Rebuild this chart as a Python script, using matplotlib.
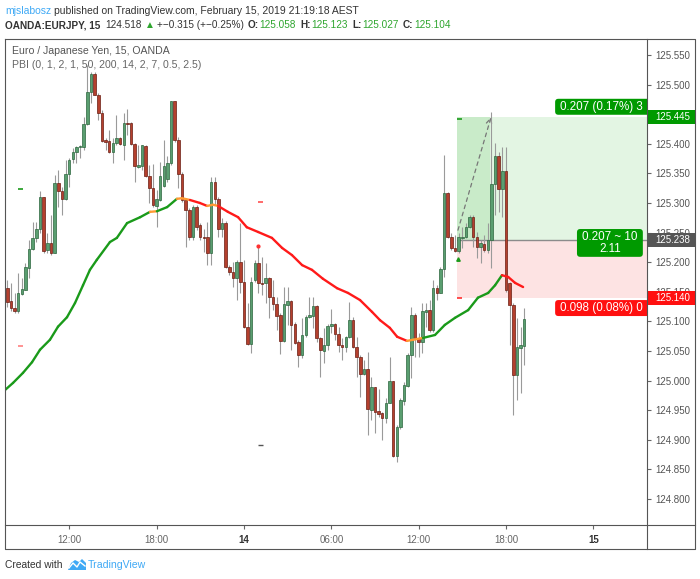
import matplotlib
matplotlib.use("Agg")
import matplotlib.pyplot as plt
import matplotlib.transforms as mtransforms
from matplotlib.collections import LineCollection
from matplotlib.patches import Rectangle, Polygon, FancyBboxPatch
import numpy as np

plt.rcParams["font.family"] = ["Liberation Sans", "DejaVu Sans"]

# EUR/JPY 15 min candles, bar 0 = Feb 13 07:45
opens = [
    125.156, 125.134, 125.123, 125.118, 125.146, 125.153, 125.190, 125.222, 125.241, 125.256,
    125.310, 125.221, 125.232, 125.216, 125.334, 125.320, 125.307, 125.349, 125.374, 125.386,
    125.395, 125.395, 125.433, 125.488, 125.518, 125.482, 125.452, 125.406, 125.405, 125.386,
    125.401, 125.410, 125.398, 125.435, 125.435, 125.400, 125.361, 125.362, 125.396, 125.346,
    125.325, 125.295, 125.305, 125.329, 125.340, 125.368, 125.472, 125.406, 125.349, 125.305,
    125.288, 125.243, 125.293, 125.262, 125.243, 125.243, 125.216, 125.335, 125.307, 125.256,
    125.266, 125.192, 125.183, 125.173, 125.200, 125.167, 125.091, 125.062, 125.170, 125.199,
    125.165, 125.165, 125.173, 125.141, 125.129, 125.111, 125.067, 125.128, 125.134, 125.096,
    125.065, 125.043, 125.077, 125.107, 125.109, 125.126, 125.072, 125.050, 125.060, 125.092,
    125.096, 125.079, 125.060, 125.057, 125.074, 125.102, 125.057, 125.040, 125.011, 125.020,
    124.950, 124.989, 124.949, 124.945, 124.937, 124.962, 124.999, 124.873, 124.922, 124.966,
    124.991, 125.043, 125.111, 125.072, 125.065, 125.116, 125.119, 125.085, 125.156, 125.148,
    125.189, 125.317, 125.243, 125.224, 125.219, 125.241, 125.243, 125.259, 125.276, 125.243,
    125.226, 125.231, 125.221, 125.237, 125.332, 125.379, 125.324, 125.354, 125.165, 125.128,
    125.009, 125.055, 125.058,
]
highs = [
    125.170, 125.165, 125.148, 125.182, 125.173, 125.199, 125.237, 125.268, 125.268, 125.320,
    125.310, 125.249, 125.280, 125.347, 125.356, 125.327, 125.373, 125.376, 125.393, 125.396,
    125.398, 125.445, 125.533, 125.521, 125.521, 125.486, 125.457, 125.410, 125.423, 125.410,
    125.449, 125.411, 125.452, 125.459, 125.437, 125.401, 125.398, 125.398, 125.398, 125.364,
    125.366, 125.322, 125.369, 125.406, 125.380, 125.472, 125.472, 125.411, 125.352, 125.308,
    125.292, 125.297, 125.297, 125.266, 125.256, 125.268, 125.344, 125.344, 125.310, 125.275,
    125.270, 125.195, 125.200, 125.204, 125.266, 125.204, 125.131, 125.175, 125.204, 125.226,
    125.209, 125.199, 125.175, 125.170, 125.141, 125.114, 125.158, 125.158, 125.136, 125.099,
    125.069, 125.106, 125.111, 125.141, 125.141, 125.128, 125.074, 125.089, 125.096, 125.121,
    125.097, 125.091, 125.072, 125.075, 125.133, 125.107, 125.074, 125.043, 125.035, 125.048,
    125.006, 124.989, 124.986, 124.947, 124.971, 125.040, 124.999, 124.925, 124.971, 124.998,
    125.047, 125.124, 125.114, 125.080, 125.131, 125.131, 125.136, 125.170, 125.161, 125.192,
    125.381, 125.319, 125.249, 125.246, 125.249, 125.259, 125.266, 125.280, 125.280, 125.251,
    125.237, 125.246, 125.266, 125.454, 125.401, 125.386, 125.395, 125.395, 125.167, 125.131,
    125.106, 125.091, 125.123,
]
lows = [
    125.124, 125.118, 125.114, 125.114, 125.145, 125.153, 125.173, 125.221, 125.234, 125.249,
    125.216, 125.216, 125.212, 125.216, 125.293, 125.280, 125.305, 125.327, 125.368, 125.368,
    125.376, 125.390, 125.432, 125.469, 125.482, 125.440, 125.403, 125.390, 125.384, 125.368,
    125.398, 125.398, 125.373, 125.415, 125.398, 125.335, 125.359, 125.356, 125.344, 125.300,
    125.293, 125.259, 125.303, 125.327, 125.335, 125.364, 125.403, 125.325, 125.302, 125.226,
    125.237, 125.237, 125.254, 125.237, 125.217, 125.195, 125.195, 125.297, 125.243, 125.243,
    125.190, 125.178, 125.158, 125.136, 125.148, 125.089, 125.060, 125.047, 125.167, 125.148,
    125.145, 125.131, 125.106, 125.119, 125.085, 125.045, 125.065, 125.094, 125.052, 125.062,
    125.023, 125.038, 125.074, 125.106, 125.089, 125.065, 125.006, 125.030, 125.052, 125.080,
    125.069, 125.048, 125.035, 125.048, 125.072, 125.055, 125.006, 124.972, 125.009, 124.908,
    124.933, 124.912, 124.938, 124.900, 124.928, 124.962, 124.871, 124.863, 124.918, 124.959,
    124.989, 125.004, 125.040, 125.040, 125.047, 125.091, 125.082, 125.082, 125.136, 125.148,
    125.175, 125.241, 125.221, 125.217, 125.216, 125.224, 125.241, 125.258, 125.226, 125.207,
    125.199, 125.217, 125.216, 125.190, 125.280, 125.285, 125.276, 125.150, 125.060, 124.942,
    124.967, 124.979, 125.027,
]
closes = [
    125.133, 125.123, 125.118, 125.148, 125.155, 125.192, 125.222, 125.241, 125.256, 125.310,
    125.219, 125.232, 125.216, 125.334, 125.320, 125.307, 125.349, 125.373, 125.386, 125.395,
    125.396, 125.433, 125.488, 125.518, 125.482, 125.452, 125.405, 125.403, 125.386, 125.401,
    125.410, 125.400, 125.435, 125.433, 125.400, 125.362, 125.364, 125.398, 125.346, 125.325,
    125.297, 125.307, 125.346, 125.362, 125.368, 125.472, 125.406, 125.349, 125.305, 125.288,
    125.243, 125.293, 125.259, 125.243, 125.241, 125.216, 125.335, 125.307, 125.256, 125.266,
    125.192, 125.183, 125.173, 125.200, 125.167, 125.091, 125.062, 125.167, 125.199, 125.165,
    125.163, 125.173, 125.141, 125.129, 125.109, 125.067, 125.129, 125.134, 125.094, 125.064,
    125.043, 125.077, 125.107, 125.111, 125.126, 125.072, 125.052, 125.060, 125.092, 125.096,
    125.079, 125.060, 125.057, 125.074, 125.102, 125.057, 125.040, 125.011, 125.020, 124.952,
    124.989, 124.947, 124.944, 124.937, 124.962, 124.999, 124.873, 124.922, 124.967, 124.993,
    125.043, 125.111, 125.072, 125.065, 125.118, 125.119, 125.085, 125.156, 125.148, 125.189,
    125.317, 125.243, 125.224, 125.219, 125.243, 125.243, 125.259, 125.276, 125.243, 125.226,
    125.232, 125.221, 125.237, 125.332, 125.379, 125.324, 125.354, 125.153, 125.128, 125.009,
    125.057, 125.060, 125.104,
]

# moving average (bar position, price)
ma_bar = [-0.63, 1.57, 4.31, 6.79, 8.98, 11.73, 13.93, 16.4, 18.6, 20.8, 22.7, 24.6,
          28.2, 30.1, 32.9, 36.5, 39.2, 41.1, 43.9, 46.6, 48.0, 50.2, 52.9, 54.9,
          56.5, 57.9, 60.6, 63.4, 65.8, 68.9, 72.7, 75.5, 78.2, 81.0, 83.7, 86.7,
          90.6, 93.6, 96.9, 100.2, 102.4, 105.1, 107.1, 109.8, 111.5, 114.2, 117.5,
          120.2, 123.0, 126.6, 129.3, 132.1, 134.0, 135.9, 137.6, 139.5, 141.7]
ma_val = [124.984, 124.996, 125.013, 125.031, 125.052, 125.069, 125.091, 125.107,
          125.131, 125.161, 125.187, 125.204, 125.234, 125.241, 125.266, 125.276,
          125.285, 125.286, 125.293, 125.307, 125.308, 125.305, 125.300, 125.295,
          125.297, 125.295, 125.285, 125.276, 125.259, 125.251, 125.241, 125.224,
          125.212, 125.195, 125.187, 125.172, 125.156, 125.148, 125.136, 125.116,
          125.102, 125.089, 125.074, 125.067, 125.069, 125.072, 125.077, 125.094,
          125.106, 125.119, 125.140, 125.148, 125.161, 125.178, 125.175, 125.165,
          125.158]

tick_bars = [17, 41, 65, 89, 113, 137, 161]
tick_labels = ["12:00", "18:00", "14", "06:00", "12:00", "18:00", "15"]
price_ticks = [124.80, 124.85, 124.90, 124.95, 125.00, 125.05, 125.10, 125.15,
               125.20, 125.25, 125.30, 125.35, 125.40, 125.50, 125.55]

entry, target, stop = 125.238, 125.445, 125.140
pos_start, pos_hit = 123.5, 132.6

W, H = 700, 579
fig = plt.figure(figsize=(W / 100, H / 100), dpi=100)
PL, PR, PT, PB = 5, 647, 39, 525
ax = fig.add_axes([PL / W, 1 - PB / H, (PR - PL) / W, (PB - PT) / H])
xmin, xmax = -0.63, 175.74
ax.set_xlim(xmin, xmax)
ax.set_ylim(124.756, 125.577)
for s in ax.spines.values():
    s.set_visible(False)

# position tool
ax.add_patch(Rectangle((pos_start, entry), xmax - pos_start, target - entry,
                       fc="#e3f5e3", ec="none", zorder=0.5))
ax.add_patch(Rectangle((pos_start, entry), pos_hit - pos_start, target - entry,
                       fc="#c9ebc9", ec="none", zorder=0.6))
ax.add_patch(Rectangle((pos_start, stop), xmax - pos_start, entry - stop,
                       fc="#fde3e3", ec="none", zorder=0.5))
ax.hlines(entry, pos_start, xmax, color="#8c8c8c", lw=1.0, zorder=0.8)
ax.hlines(target - 0.003, pos_start, pos_start + 1.4, color="#1a9a1a", lw=1.2, zorder=1)
ax.hlines(stop, pos_start, pos_start + 1.4, color="#ff3030", lw=1.2, zorder=1)
ax.plot([pos_start + 0.2], [125.205], marker="^", ms=2.5, color="#1a9a1a", zorder=1)
ax.annotate("", xy=(pos_hit + 0.3, target), xytext=(pos_start + 0.3, 125.254),
            arrowprops=dict(arrowstyle="->", linestyle=(0, (3, 3)), color="#777777",
                            lw=0.9, shrinkA=0, shrinkB=0), zorder=1)

# candles
o, h, l, c = map(np.array, (opens, highs, lows, closes))
idx = np.arange(len(o))
up = c >= o
ax.vlines(idx, l, h, color="#9a9a9a", lw=0.8, zorder=2)
bot = np.minimum(o, c)
ht = np.maximum(np.abs(c - o), 0.0013)
ax.bar(idx[up], ht[up], bottom=bot[up], width=0.7, color="#5a9e70",
       edgecolor="#2c663d", lw=0.5, zorder=3)
ax.bar(idx[~up], ht[~up], bottom=bot[~up], width=0.7, color="#b4402e",
       edgecolor="#6a1d12", lw=0.5, zorder=3)

# coloured moving average
mx, my = np.array(ma_bar), np.array(ma_val)
slope = np.diff(my) / np.diff(mx)
cols = np.where(slope > 0.0015, "#1a9a1a",
                np.where(slope < -0.0015, "#ff1a1a", "#ff9a33"))
segs = np.stack([np.column_stack([mx[:-1], my[:-1]]),
                 np.column_stack([mx[1:], my[1:]])], axis=1)
ax.add_collection(LineCollection(segs, colors=cols, lw=1.7, zorder=4, capstyle="round"))

# PBI marks
ax.hlines(125.324, 2.9, 4.3, color="#1a9a1a", lw=1.2, zorder=4)
ax.hlines(125.058, 2.9, 4.3, color="#ff8080", lw=1.2, zorder=4)
ax.hlines(125.302, 68.9, 70.3, color="#ff5050", lw=1.2, zorder=4)
ax.hlines(124.891, 68.9, 70.3, color="#555555", lw=1.0, zorder=4)
ax.plot([68.9], [125.227], "o", ms=2, color="#ff3030", zorder=4)

# position labels: rounded boxes in data units, clipped at the price scale
asp = (1 / 592) / (1 / 3.64)


def pos_box(x0, x1, y0, y1, fc):
    ax.add_patch(FancyBboxPatch((x0, y0), x1 - x0, y1 - y0,
                                boxstyle="round,pad=0,rounding_size=0.9",
                                mutation_aspect=asp, fc=fc, ec="none", zorder=7))


pos_box(150.5, 182, 125.449, 125.476, "#009a00")
pos_box(156.5, 174.6, 125.209, 125.256, "#009a00")
pos_box(150.5, 182, 125.109, 125.136, "#ff1010")
lbl = dict(color="white", fontsize=8.4, va="center", zorder=8, clip_on=True)
ax.text(151.8, 125.4625, "0.207 (0.17%) 3", ha="left", **lbl)
ax.text(165.6, 125.2325, "0.207 ~ 10\n2.11", ha="center", linespacing=1.0, **lbl)
ax.text(151.8, 125.1225, "0.098 (0.08%) 0", ha="left", **lbl)

# axes ticks
ax.yaxis.tick_right()
ax.set_yticks(price_ticks)
ax.set_yticklabels([f"{p:.3f}" for p in price_ticks])
ax.tick_params(axis="y", direction="out", length=3, width=0.8, color="#666666",
               labelcolor="#555555", labelsize=7, pad=3)
ax.set_xticks(tick_bars)
ax.set_xticklabels(tick_labels)
ax.tick_params(axis="x", direction="out", length=3, width=0.8, color="#666666",
               labelcolor="#666666", labelsize=7, pad=4)
for lab in ax.get_xticklabels():
    if lab.get_text() in ("14", "15"):
        lab.set_fontweight("bold")
        lab.set_color("#333333")

bt = mtransforms.blended_transform_factory(ax.transAxes, ax.transData)


def axis_tag(price, fc):
    hh = 7 / 592
    ax.add_patch(Rectangle((1.0, price - hh), (695 - 647) / 642, 2 * hh, transform=bt,
                           fc=fc, ec="none", clip_on=False, zorder=6))
    ax.text(1.0 + 8 / 642, price, f"{price:.3f}", transform=bt, color="white",
            fontsize=7, va="center", ha="left", clip_on=False, zorder=7)


axis_tag(target, "#009a00")
axis_tag(entry, "#555555")
axis_tag(stop, "#ff1010")

# overlay in pixel coordinates for frame and captions
ov = fig.add_axes([0, 0, 1, 1])
ov.set_xlim(0, W)
ov.set_ylim(H, 0)
ov.axis("off")
ov.patch.set_alpha(0)
fc = "#555555"
ov.plot([5, 695, 695, 5, 5], [39, 39, 549, 549, 39], color=fc, lw=0.8)
ov.plot([647, 647], [39, 549], color=fc, lw=0.8)
ov.plot([5, 695], [525, 525], color=fc, lw=0.8)

renderer = fig.canvas.get_renderer()


def runs(x, y, parts, size=8):
    for txt, color, weight, gap in parts:
        t = ov.text(x, y, txt, color=color, fontsize=size, fontweight=weight,
                    va="center", ha="left")
        x = t.get_window_extent(renderer=renderer).x1 + gap


dark, grn = "#333333", "#2ea52e"
runs(5, 11, [("mjslabosz", "#3fa9f5", "normal", 3),
             ("published on TradingView.com, February 15, 2019 21:19:18 AEST", dark, "normal", 0)],
     size=7.5)
runs(5, 25, [("OANDA:EURJPY, 15", dark, "bold", 5),
             ("124.518", dark, "normal", 3), ("▲", grn, "normal", 2),
             ("+−0.315 (+−0.25%)", dark, "normal", 4),
             ("O:", dark, "bold", 1), ("125.058", grn, "normal", 4),
             ("H:", dark, "bold", 1), ("125.123", grn, "normal", 4),
             ("L:", dark, "bold", 1), ("125.027", grn, "normal", 4),
             ("C:", dark, "bold", 1), ("125.104", grn, "normal", 0)], size=7.2)
ov.text(12, 51, "Euro / Japanese Yen, 15, OANDA", color="#555555", fontsize=7.6, va="center")
ov.text(12, 65, "PBI (0, 1, 2, 1, 50, 200, 14, 2, 7, 0.5, 2.5)", color="#666666",
        fontsize=7.6, va="center")

ov.text(5, 565, "Created with", color=dark, fontsize=7.4, va="center")
ov.add_patch(Polygon([(68, 570), (71, 563), (75, 560), (79, 562), (82, 559), (86, 563),
                      (86, 570)], closed=True, fc="#3fa9f5", ec="none"))
ov.plot([69, 73, 77, 80, 85], [568, 563, 567, 562, 566], color="white", lw=1.0)
ov.text(88, 565, "TradingView", color="#3fa9f5", fontsize=7.6, va="center")

fig.savefig("out.png", dpi=100)
